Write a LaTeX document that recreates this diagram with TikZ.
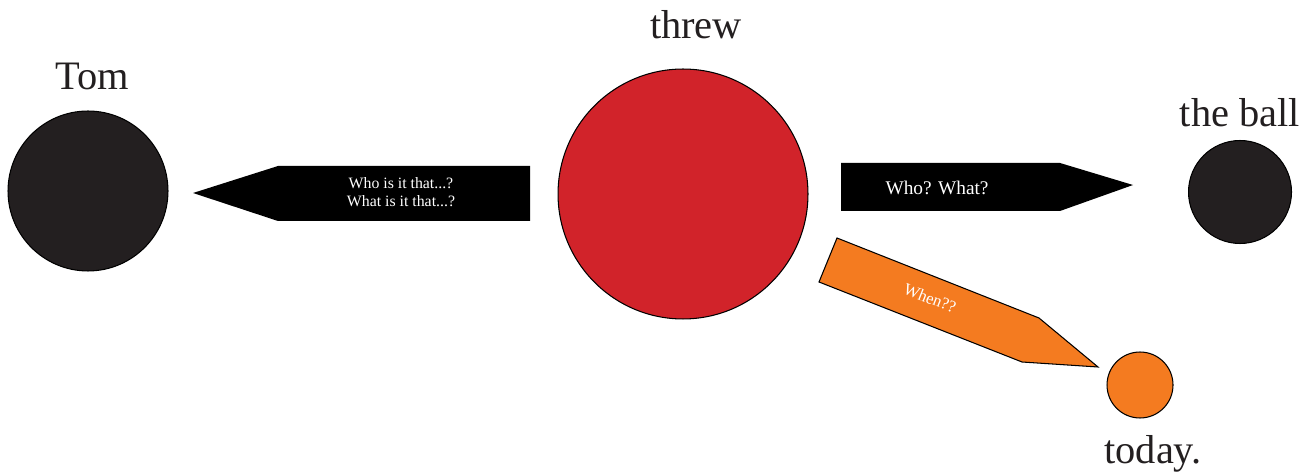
\documentclass[tikz,border=0pt]{standalone}
\usepackage{fontspec}
\setmainfont{Liberation Serif}
\definecolor{dotblack}{HTML}{231F20}
\definecolor{threwred}{HTML}{D1232A}
\definecolor{whenorange}{HTML}{F47B20}
\tikzset{
    word/.style={font=\fontsize{23}{26}\selectfont, text=dotblack, anchor=base},
    dot/.style={circle, draw=black, line width=0.6pt, inner sep=0pt},
    tag/.style={text=white, align=center, font=\fontsize{9}{10}\selectfont},
}
\begin{document}
\begin{tikzpicture}[x=0.02cm,y=-0.02cm]
    \useasboundingbox (0,0) rectangle (1314,472);
%   \foreach \i in {0,100,...,1300} {
%       \draw [very thin,gray] (\i,0) -- (\i,472)  ;
%   }

    % the dots
    \node [dot, fill=dotblack, minimum size=3.2cm] (tom) at (88,191) {};
    \node [dot, fill=threwred, minimum size=5.0cm] (threw) at (683,194) {};
    \node [dot, fill=dotblack, minimum size=2.06cm] (ball) at (1240,192) {};
    \node [dot, fill=whenorange, minimum size=1.32cm] (today) at (1140,385) {};

    % the words
    \node [word] (tomword) at (92,90) {Tom};
    \node [word] (threwword) at (696,39) {threw};
    \node [word] (ballword) at (1240,127) {the ball};
    \node [word] (todayword) at (1153,463) {today.};

    % the arrows
    \fill [black] (530,166) -- (278,166) -- (193,193) -- (278,221) -- (530,221) -- cycle;
    \fill [black] (841,163) -- (1060,163) -- (1133,185) -- (1060,211) -- (841,211) -- cycle;
    \filldraw [fill=whenorange, draw=black, line width=0.6pt]
        (837,238) -- (1039,318) -- (1098,367) -- (1022,362) -- (819,282) -- cycle;

    \node [tag] (askwho) at (401,192) {Who is it that...?\\What is it that...?};
    \node [tag, font=\fontsize{11}{12}\selectfont] (askwhat) at (937,188) {Who? What?};
    \node [tag, font=\fontsize{9.5}{11}\selectfont, rotate=-21.6] (askwhen) at (930,298) {When??};
\end{tikzpicture}
\end{document}
